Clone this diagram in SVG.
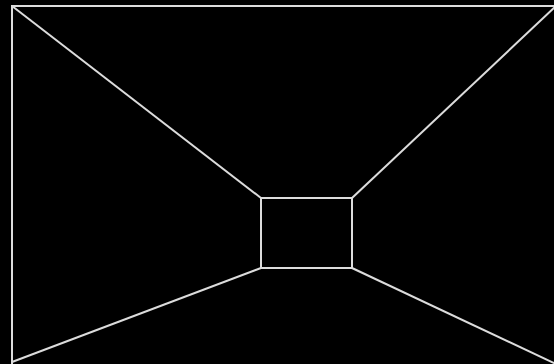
<svg xmlns="http://www.w3.org/2000/svg" width="554" height="364" viewBox="0 0 554 364">
<style>.l{stroke:#dcdcdc;stroke-width:2;fill:none}</style>
<rect x="0" y="0" width="554" height="364" fill="#000"/>
<g id="outer"><rect class="l" x="12" y="6" width="544" height="360"/></g>
<g id="inner"><rect class="l" x="261" y="198" width="91" height="70"/></g>
<g id="connectors">
<line class="l" x1="12" y1="6" x2="261" y2="198"/>
<line class="l" x1="556" y1="6" x2="352" y2="198"/>
<line class="l" x1="12" y1="362" x2="261" y2="268"/>
<line class="l" x1="556" y1="364" x2="352" y2="268"/>
</g>
</svg>
